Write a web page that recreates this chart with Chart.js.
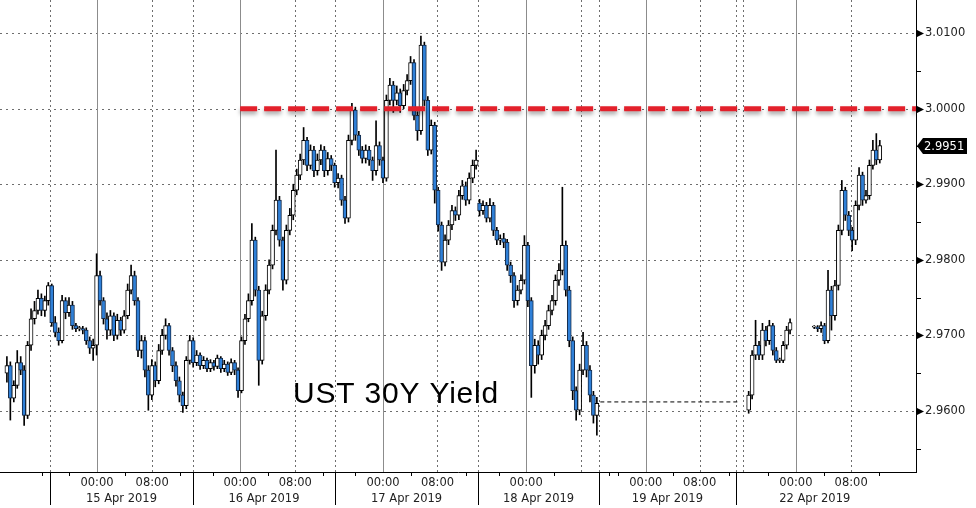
<!DOCTYPE html>
<html>
<head>
<meta charset="utf-8">
<script src="https://cdn.jsdelivr.net/npm/chart.js@4.4.1/dist/chart.umd.min.js"></script>
<style>
  html, body { margin: 0; padding: 0; background: #fff; }
  #wrap { width: 976px; height: 508px; position: relative; }
</style>
</head>
<body>
<div id="wrap"><canvas id="yieldChart"></canvas></div>
<script>
// UST 30Y yield, 30 minute candles, 15 - 22 Apr 2019
// candles sit on "slots" (one slot = one bar), trading gaps are skipped
const segStarts = [2, 217, 236];
const segLengths = [172, 13, 20];

const opens = [
  2.9650, 2.9660, 2.9617, 2.9634, 2.9664, 2.9654, 2.9594, 2.9687, 2.9722, 2.9733,
  2.9749, 2.9733, 2.9746, 2.9766, 2.9717, 2.9704, 2.9693, 2.9746, 2.9730, 2.9740,
  2.9713, 2.9709, 2.9709, 2.9707, 2.9693, 2.9683, 2.9687, 2.9779, 2.9746, 2.9722,
  2.9707, 2.9726, 2.9700, 2.9720, 2.9707, 2.9726, 2.9760, 2.9779, 2.9746, 2.9680,
  2.9693, 2.9654, 2.9621, 2.9660, 2.9640, 2.9680, 2.9700, 2.9713, 2.9680, 2.9660,
  2.9640, 2.9621, 2.9607, 2.9667, 2.9693, 2.9664, 2.9674, 2.9660, 2.9667, 2.9656,
  2.9664, 2.9659, 2.9670, 2.9656, 2.9662, 2.9651, 2.9664, 2.9654, 2.9627, 2.9693,
  2.9722, 2.9746, 2.9826, 2.9760, 2.9667, 2.9726, 2.9760, 2.9793, 2.9839, 2.9879,
  2.9826, 2.9773, 2.9839, 2.9859, 2.9892, 2.9912, 2.9932, 2.9958, 2.9925, 2.9945,
  2.9918, 2.9932, 2.9945, 2.9918, 2.9934, 2.9925, 2.9902, 2.9908, 2.9879, 2.9855,
  2.9958, 2.9998, 2.9965, 2.9945, 2.9934, 2.9945, 2.9932, 2.9918, 2.9951, 2.9932,
  2.9908, 3.0011, 3.0031, 3.0011, 3.0021, 3.0004, 3.0024, 3.0037, 3.0061, 2.9991,
  2.9971, 3.0084, 3.0011, 2.9945, 2.9978, 2.9892, 2.9846, 2.9797, 2.9826, 2.9846,
  2.9865, 2.9859, 2.9885, 2.9898, 2.9879, 2.9908, 2.9925, 2.9875, 2.9865, 2.9872,
  2.9855, 2.9872, 2.9839, 2.9826, 2.9828, 2.9823, 2.9793, 2.9779, 2.9746, 2.9760,
  2.9773, 2.9819, 2.9746, 2.9660, 2.9687, 2.9674, 2.9700, 2.9713, 2.9733, 2.9746,
  2.9773, 2.9786, 2.9819, 2.9760, 2.9693, 2.9627, 2.9601, 2.9654, 2.9687, 2.9654,
  2.9621, 2.9594,
  2.9601, 2.9621, 2.9674, 2.9687, 2.9674, 2.9707, 2.9693, 2.9713, 2.9680, 2.9667,
  2.9667, 2.9687, 2.9707,
  2.9711, 2.9711, 2.9709, 2.9713, 2.9693, 2.9760, 2.9726, 2.9766, 2.9839, 2.9892,
  2.9859, 2.9839, 2.9826, 2.9872, 2.9912, 2.9879, 2.9885, 2.9925, 2.9945, 2.9932
];

const highs = [
  2.9672, 2.9665, 2.9640, 2.9680, 2.9672, 2.9660, 2.9692, 2.9735, 2.9745, 2.9760,
  2.9755, 2.9752, 2.9770, 2.9768, 2.9725, 2.9710, 2.9753, 2.9750, 2.9750, 2.9745,
  2.9716, 2.9712, 2.9712, 2.9710, 2.9698, 2.9695, 2.9808, 2.9785, 2.9750, 2.9730,
  2.9733, 2.9730, 2.9728, 2.9724, 2.9733, 2.9768, 2.9793, 2.9785, 2.9750, 2.9700,
  2.9698, 2.9660, 2.9668, 2.9665, 2.9688, 2.9708, 2.9722, 2.9716, 2.9684, 2.9665,
  2.9645, 2.9625, 2.9672, 2.9700, 2.9697, 2.9680, 2.9677, 2.9672, 2.9670, 2.9668,
  2.9667, 2.9674, 2.9672, 2.9667, 2.9665, 2.9669, 2.9667, 2.9657, 2.9698, 2.9728,
  2.9755, 2.9848, 2.9830, 2.9765, 2.9732, 2.9767, 2.9800, 2.9846, 2.9945, 2.9884,
  2.9830, 2.9846, 2.9868, 2.9900, 2.9920, 2.9940, 2.9975, 2.9962, 2.9952, 2.9950,
  2.9940, 2.9952, 2.9950, 2.9942, 2.9938, 2.9928, 2.9914, 2.9912, 2.9884, 2.9965,
  3.0007, 3.0002, 2.9970, 2.9950, 2.9952, 2.9950, 2.9936, 2.9984, 2.9956, 2.9936,
  3.0018, 3.0040, 3.0036, 3.0030, 3.0026, 3.0032, 3.0045, 3.0069, 3.0065, 2.9996,
  3.0096, 3.0088, 3.0016, 2.9985, 2.9982, 2.9896, 2.9850, 2.9833, 2.9852, 2.9872,
  2.9870, 2.9892, 2.9905, 2.9903, 2.9915, 2.9932, 2.9945, 2.9880, 2.9878, 2.9876,
  2.9881, 2.9876, 2.9843, 2.9833, 2.9835, 2.9827, 2.9797, 2.9783, 2.9766, 2.9780,
  2.9832, 2.9823, 2.9750, 2.9695, 2.9693, 2.9707, 2.9720, 2.9740, 2.9753, 2.9780,
  2.9795, 2.9896, 2.9825, 2.9765, 2.9698, 2.9632, 2.9662, 2.9704, 2.9692, 2.9660,
  2.9626, 2.9618,
  2.9626, 2.9680, 2.9720, 2.9692, 2.9716, 2.9712, 2.9720, 2.9716, 2.9684, 2.9670,
  2.9692, 2.9712, 2.9722,
  2.9713, 2.9713, 2.9718, 2.9716, 2.9786, 2.9765, 2.9773, 2.9846, 2.9905, 2.9896,
  2.9864, 2.9843, 2.9878, 2.9922, 2.9916, 2.9892, 2.9932, 2.9958, 2.9967, 2.9958
];

const lows = [
  2.9638, 2.9588, 2.9612, 2.9630, 2.9648, 2.9581, 2.9590, 2.9680, 2.9715, 2.9728,
  2.9726, 2.9725, 2.9740, 2.9712, 2.9698, 2.9687, 2.9690, 2.9722, 2.9725, 2.9708,
  2.9705, 2.9706, 2.9702, 2.9688, 2.9676, 2.9667, 2.9674, 2.9740, 2.9715, 2.9695,
  2.9700, 2.9693, 2.9695, 2.9700, 2.9703, 2.9722, 2.9755, 2.9740, 2.9672, 2.9670,
  2.9645, 2.9601, 2.9615, 2.9632, 2.9636, 2.9675, 2.9695, 2.9674, 2.9652, 2.9633,
  2.9612, 2.9598, 2.9603, 2.9662, 2.9658, 2.9660, 2.9655, 2.9656, 2.9652, 2.9652,
  2.9654, 2.9656, 2.9651, 2.9652, 2.9647, 2.9648, 2.9648, 2.9618, 2.9624, 2.9688,
  2.9718, 2.9740, 2.9752, 2.9634, 2.9662, 2.9720, 2.9755, 2.9788, 2.9833, 2.9818,
  2.9760, 2.9768, 2.9833, 2.9853, 2.9886, 2.9906, 2.9926, 2.9918, 2.9920, 2.9910,
  2.9912, 2.9926, 2.9910, 2.9912, 2.9918, 2.9896, 2.9895, 2.9872, 2.9848, 2.9850,
  2.9952, 2.9958, 2.9938, 2.9928, 2.9928, 2.9925, 2.9905, 2.9912, 2.9925, 2.9902,
  2.9904, 3.0005, 2.9995, 3.0005, 2.9995, 3.0000, 3.0018, 3.0032, 2.9985, 2.9958,
  2.9966, 3.0004, 2.9938, 2.9940, 2.9875, 2.9838, 2.9786, 2.9792, 2.9820, 2.9840,
  2.9852, 2.9853, 2.9880, 2.9872, 2.9874, 2.9902, 2.9920, 2.9858, 2.9860, 2.9850,
  2.9850, 2.9832, 2.9820, 2.9820, 2.9816, 2.9786, 2.9770, 2.9737, 2.9740, 2.9755,
  2.9768, 2.9738, 2.9618, 2.9650, 2.9662, 2.9668, 2.9694, 2.9708, 2.9727, 2.9740,
  2.9766, 2.9780, 2.9752, 2.9685, 2.9615, 2.9588, 2.9595, 2.9648, 2.9645, 2.9612,
  2.9584, 2.9568,
  2.9597, 2.9616, 2.9668, 2.9668, 2.9668, 2.9686, 2.9688, 2.9674, 2.9664, 2.9664,
  2.9664, 2.9682, 2.9702,
  2.9709, 2.9705, 2.9704, 2.9689, 2.9690, 2.9707, 2.9720, 2.9760, 2.9833, 2.9852,
  2.9832, 2.9812, 2.9820, 2.9866, 2.9872, 2.9875, 2.9880, 2.9920, 2.9926, 2.9928
];

const closes = [
  2.9660, 2.9617, 2.9634, 2.9664, 2.9654, 2.9594, 2.9687, 2.9722, 2.9733, 2.9749,
  2.9733, 2.9746, 2.9766, 2.9717, 2.9704, 2.9693, 2.9746, 2.9730, 2.9740, 2.9713,
  2.9709, 2.9709, 2.9707, 2.9693, 2.9683, 2.9687, 2.9779, 2.9746, 2.9722, 2.9707,
  2.9726, 2.9700, 2.9720, 2.9707, 2.9726, 2.9760, 2.9779, 2.9746, 2.9680, 2.9693,
  2.9654, 2.9621, 2.9660, 2.9640, 2.9680, 2.9700, 2.9713, 2.9680, 2.9660, 2.9640,
  2.9621, 2.9607, 2.9667, 2.9693, 2.9664, 2.9674, 2.9660, 2.9667, 2.9656, 2.9664,
  2.9659, 2.9670, 2.9656, 2.9662, 2.9651, 2.9664, 2.9654, 2.9627, 2.9693, 2.9722,
  2.9746, 2.9826, 2.9760, 2.9667, 2.9726, 2.9760, 2.9793, 2.9839, 2.9879, 2.9826,
  2.9773, 2.9839, 2.9859, 2.9892, 2.9912, 2.9932, 2.9958, 2.9925, 2.9945, 2.9918,
  2.9932, 2.9945, 2.9918, 2.9934, 2.9925, 2.9902, 2.9908, 2.9879, 2.9855, 2.9958,
  2.9998, 2.9965, 2.9945, 2.9934, 2.9945, 2.9932, 2.9918, 2.9951, 2.9932, 2.9908,
  3.0011, 3.0031, 3.0011, 3.0021, 3.0004, 3.0024, 3.0037, 3.0061, 2.9991, 2.9971,
  3.0084, 3.0011, 2.9945, 2.9978, 2.9892, 2.9846, 2.9797, 2.9826, 2.9846, 2.9865,
  2.9859, 2.9885, 2.9898, 2.9879, 2.9908, 2.9925, 2.9932, 2.9865, 2.9872, 2.9855,
  2.9872, 2.9839, 2.9826, 2.9828, 2.9823, 2.9793, 2.9779, 2.9746, 2.9760, 2.9773,
  2.9819, 2.9746, 2.9660, 2.9687, 2.9674, 2.9700, 2.9713, 2.9733, 2.9746, 2.9773,
  2.9786, 2.9819, 2.9760, 2.9693, 2.9627, 2.9601, 2.9654, 2.9687, 2.9654, 2.9621,
  2.9594, 2.9610,
  2.9621, 2.9674, 2.9687, 2.9674, 2.9707, 2.9693, 2.9713, 2.9680, 2.9667, 2.9667,
  2.9687, 2.9707, 2.9717,
  2.9711, 2.9709, 2.9713, 2.9693, 2.9760, 2.9726, 2.9766, 2.9839, 2.9892, 2.9859,
  2.9839, 2.9826, 2.9872, 2.9912, 2.9879, 2.9885, 2.9925, 2.9945, 2.9932, 2.9951
];

// reference levels
const resistanceLevel = 3.0000;
const resistanceFrom = 69.6;      // 16 Apr 00:00
const holidayLevel = 2.9612;      // flat over Good Friday
const holidayFrom = 174;
const holidayTo = 214;

// time axis (slot units)
const dayStarts = [28.1, 69.6, 111, 152.5, 187.2, 230.7];
const eightSlots = [44.1, 85.6, 126.8, 168.3, 202.8, 246.7];
const timeTickSlots = [28.1, 44.1, 69.6, 85.6, 111, 126.8, 152.5, 187.2, 202.8, 230.7, 246.7];
const timeTickLabels = ['00:00', '08:00', '00:00', '08:00', '00:00', '08:00', '00:00', '00:00', '08:00', '00:00', '08:00'];
const sessionStarts = [14.5, 55.9, 97.1, 138.6, 173.6, 213.3];
const sessionEnds = [55.9, 97.1, 138.6, 173.6, 213.3, 259];
const dateLabels = ['15 Apr 2019', '16 Apr 2019', '17 Apr 2019', '18 Apr 2019', '19 Apr 2019', '22 Apr 2019'];
const extraDotted = [215.4];

// price axis
const yTickValues = [2.955, 2.960, 2.965, 2.970, 2.975, 2.980, 2.985, 2.990, 2.995, 3.000, 3.005, 3.010];
const yMin = 2.95193;
const yMax = 3.01437;
const xMax = 265.5;

const slots = [];
segStarts.forEach((s, k) => {
    for (let i = 0; i < segLengths[k]; i++) slots.push(s + i);
});

const isLabelled = v => Math.round(v * 1000) % 10 === 0;

const bodies = slots.map((s, i) => ({ x: s, y: [Math.min(opens[i], closes[i]), Math.max(opens[i], closes[i])] }));
const wicks = slots.map((s, i) => ({ x: s, y: [lows[i], highs[i]] }));
const upCandle = slots.map((s, i) => closes[i] >= opens[i]);

const FONT = '"DejaVu Sans", sans-serif';

// grid, axis marks, labels and the last price tag
const decorations = {
    id: 'decorations',
    beforeDatasetsDraw(chart) {
        const { ctx, chartArea: a, scales: { x, y } } = chart;
        ctx.save();
        ctx.lineWidth = 1;
        ctx.strokeStyle = '#6e6e6e';
        ctx.setLineDash([2, 4]);
        yTickValues.filter(isLabelled).forEach(v => {
            const py = Math.round(y.getPixelForValue(v)) + 0.5;
            ctx.beginPath(); ctx.moveTo(a.left, py); ctx.lineTo(a.right, py); ctx.stroke();
        });
        ctx.setLineDash([2, 3]);
        [...eightSlots, ...sessionStarts, ...extraDotted].forEach(s => {
            const px = Math.round(x.getPixelForValue(s)) + 0.5;
            ctx.beginPath(); ctx.moveTo(px, a.top); ctx.lineTo(px, a.bottom); ctx.stroke();
        });
        ctx.setLineDash([]);
        ctx.strokeStyle = '#8c8c8c';
        dayStarts.forEach(s => {
            const px = Math.round(x.getPixelForValue(s)) + 0.5;
            ctx.beginPath(); ctx.moveTo(px, a.top); ctx.lineTo(px, a.bottom); ctx.stroke();
        });
        ctx.restore();
    },
    beforeDatasetDraw(chart, args) {
        if (chart.data.datasets[args.index].label === 'Resistance') {
            const ctx = chart.ctx;
            ctx.save();
            ctx.shadowColor = 'rgba(0,0,0,0.35)';
            ctx.shadowBlur = 4;
            ctx.shadowOffsetY = 3;
        }
    },
    afterDatasetDraw(chart, args) {
        if (chart.data.datasets[args.index].label === 'Resistance') chart.ctx.restore();
    },
    afterDraw(chart) {
        const { ctx, chartArea: a, scales: { x, y } } = chart;
        ctx.save();
        ctx.fillStyle = '#000';
        ctx.font = '30px "Liberation Sans", Arial, sans-serif';
        ctx.letterSpacing = '0.8px';
        ctx.textAlign = 'left';
        ctx.textBaseline = 'alphabetic';
        ctx.fillText('UST 30Y Yield', 293, 403);
        ctx.letterSpacing = '0px';

        // price axis marks
        ctx.strokeStyle = '#000';
        ctx.fillStyle = '#000';
        ctx.lineWidth = 1;
        yTickValues.forEach(v => {
            const py = Math.round(y.getPixelForValue(v)) + 0.5;
            if (isLabelled(v)) {
                ctx.beginPath();
                ctx.moveTo(a.right + 1, py - 3.5);
                ctx.lineTo(a.right + 8, py);
                ctx.lineTo(a.right + 1, py + 3.5);
                ctx.closePath();
                ctx.fill();
            } else {
                ctx.beginPath(); ctx.moveTo(a.right, py); ctx.lineTo(a.right + 5, py); ctx.stroke();
            }
        });

        // last price tag
        const last = closes[closes.length - 1];
        const ly = Math.round(y.getPixelForValue(last));
        ctx.beginPath();
        ctx.moveTo(a.right + 1, ly);
        ctx.lineTo(a.right + 7, ly - 8);
        ctx.lineTo(a.right + 51, ly - 8);
        ctx.lineTo(a.right + 51, ly + 8);
        ctx.lineTo(a.right + 7, ly + 8);
        ctx.closePath();
        ctx.fill();
        ctx.fillStyle = '#fff';
        ctx.font = '11.5px ' + FONT;
        ctx.textBaseline = 'middle';
        ctx.fillText(last.toFixed(4), a.right + 8, ly + 1);

        // time axis marks
        ctx.fillStyle = '#000';
        dayStarts.forEach((d, k) => {
            const offs = k === 0 ? [-16, -8, 8, 24] : [-8, 8, 24];
            offs.forEach(o => {
                const px = Math.round(x.getPixelForValue(d + o)) + 0.5;
                if (px > a.right) return;
                ctx.beginPath(); ctx.moveTo(px, a.bottom); ctx.lineTo(px, a.bottom + 4); ctx.stroke();
            });
        });
        sessionStarts.forEach(s => {
            const px = Math.round(x.getPixelForValue(s)) + 0.5;
            ctx.beginPath(); ctx.moveTo(px, a.bottom); ctx.lineTo(px, a.bottom + 33); ctx.stroke();
        });
        ctx.fillStyle = '#222';
        ctx.textAlign = 'center';
        ctx.textBaseline = 'middle';
        ctx.font = '11.5px ' + FONT;
        timeTickSlots.forEach((s, k) => {
            ctx.fillText(timeTickLabels[k], x.getPixelForValue(s), a.bottom + 11);
        });
        dateLabels.forEach((lab, k) => {
            const px = (x.getPixelForValue(sessionStarts[k]) + x.getPixelForValue(sessionEnds[k])) / 2;
            ctx.fillText(lab, px, a.bottom + 27);
        });
        ctx.restore();
    }
};

const ctx = document.getElementById('yieldChart').getContext('2d');
const yieldChart = new Chart(ctx, {
    type: 'bar',
    data: {
        datasets: [
            {
                type: 'line',
                label: 'Resistance',
                data: [{ x: resistanceFrom, y: resistanceLevel }, { x: xMax, y: resistanceLevel }],
                borderColor: '#e3202b',
                borderWidth: 5,
                borderDash: [17, 7],
                borderCapStyle: 'butt',
                pointRadius: 0,
                order: 0
            },
            {
                type: 'line',
                label: 'Holiday',
                data: [{ x: holidayFrom, y: holidayLevel }, { x: holidayTo, y: holidayLevel }],
                borderColor: '#000',
                borderWidth: 1,
                borderDash: [4, 3],
                pointRadius: 0,
                order: 1
            },
            {
                label: 'Bodies',
                data: bodies,
                backgroundColor: upCandle.map(u => u ? '#ffffff' : '#2f80d8'),
                borderColor: upCandle.map(u => u ? '#000000' : '#152a48'),
                borderWidth: 1,
                borderSkipped: false,
                barThickness: 4,
                minBarLength: 1,
                grouped: false,
                order: 2
            },
            {
                label: 'Wicks',
                data: wicks,
                backgroundColor: '#000',
                borderWidth: 0,
                barThickness: 1,
                grouped: false,
                order: 3
            }
        ]
    },
    options: {
        responsive: true,
        maintainAspectRatio: false,
        animation: false,
        layout: { padding: 0 },
        plugins: {
            legend: { display: false },
            tooltip: { enabled: false }
        },
        scales: {
            x: {
                type: 'linear',
                min: 0,
                max: xMax,
                offset: false,
                grid: { display: false, drawTicks: false },
                border: { display: true, color: '#000', width: 1 },
                ticks: { display: false },
                afterFit: scale => {
                    scale.height = 36;
                    scale.paddingLeft = 0;
                    scale.paddingRight = 0;
                }
            },
            y: {
                position: 'right',
                min: yMin,
                max: yMax,
                grid: { display: false, drawTicks: false },
                border: { display: true, color: '#000', width: 1 },
                afterBuildTicks: scale => { scale.ticks = yTickValues.map(v => ({ value: v })); },
                afterFit: scale => {
                    scale.width = 60;
                    scale.paddingTop = 0;
                    scale.paddingBottom = 0;
                },
                ticks: {
                    autoSkip: false,
                    padding: 9,
                    color: '#222',
                    font: { family: FONT, size: 11.5 },
                    callback: v => isLabelled(v) ? v.toFixed(4) : ''
                }
            }
        }
    },
    plugins: [decorations]
});
</script>
</body>
</html>
